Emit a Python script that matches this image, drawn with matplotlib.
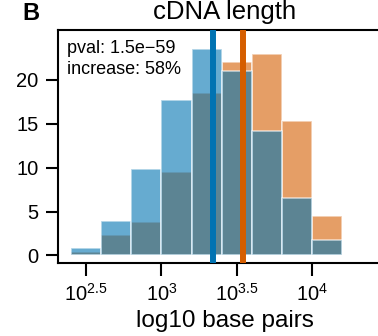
import matplotlib
matplotlib.use("Agg")
import matplotlib.pyplot as plt
import numpy as np

plt.rcParams['font.family'] = ['Liberation Sans', 'DejaVu Sans']
plt.rcParams['mathtext.default'] = 'regular'

# Data (percent of transcripts per log10 length bin)
bin_left = [2.4, 2.6, 2.8, 3.0, 3.2, 3.4, 3.6, 3.8, 4.0, 4.2]
bin_width = 0.2
group_a_pct = [0.8, 3.9, 9.9, 17.7, 23.5, 21.0, 14.2, 6.6, 1.8, 0.1]   # blue
group_b_pct = [0.35, 2.3, 3.8, 9.5, 18.5, 22.0, 23.0, 15.3, 4.5, 0.1]  # orange
median_a = 3.341
median_b = 3.54
xticks = [2.5, 3.0, 3.5, 4.0]
xtick_labels = ['$10^{2.5}$', '$10^{3}$', '$10^{3.5}$', '$10^{4}$']
yticks = [0, 5, 10, 15, 20]

blue = '#0173b2'
orange = '#d55e00'

fig = plt.figure(figsize=(3.78, 3.36), dpi=100)
ax = fig.add_axes([58/378, 1-263.3/336, (392-58)/378, (263.3-30)/336])

ax.bar(bin_left, group_b_pct, width=bin_width, align='edge', color=orange,
       alpha=0.6, edgecolor='white', linewidth=1.2, zorder=2)
ax.bar(bin_left, group_a_pct, width=bin_width, align='edge', color=blue,
       alpha=0.6, edgecolor='white', linewidth=1.2, zorder=3)
ax.axvline(median_a, color=blue, linewidth=4.3, zorder=4)
ax.axvline(median_b, color=orange, linewidth=4.3, zorder=4)

ax.set_xlim(2.314, 4.53)
ax.set_ylim(-0.9, 25.7)
ax.set_xticks(xticks)
ax.set_xticklabels(xtick_labels)
ax.set_yticks(yticks)

for s in ['left', 'bottom', 'top']:
    ax.spines[s].set_linewidth(1.5)
ax.spines['right'].set_visible(False)
ax.tick_params(axis='both', length=9, width=1.5, labelsize=14.5, pad=5)

ax.set_xlabel('log10 base pairs', fontsize=17.5, labelpad=4)

ax.text(0.026, 0.955, 'pval: 1.5e\u221259\nincrease: 58%', transform=ax.transAxes,
        fontsize=13, va='top', ha='left', linespacing=1.25)

fig.text(225/378, 1-19/336, 'cDNA length', fontsize=18.5, ha='center', va='baseline')
fig.text(22/378, 1-20/336, 'B', fontsize=17, fontweight='bold', ha='left', va='baseline')

fig.savefig('out.png', dpi=100)
